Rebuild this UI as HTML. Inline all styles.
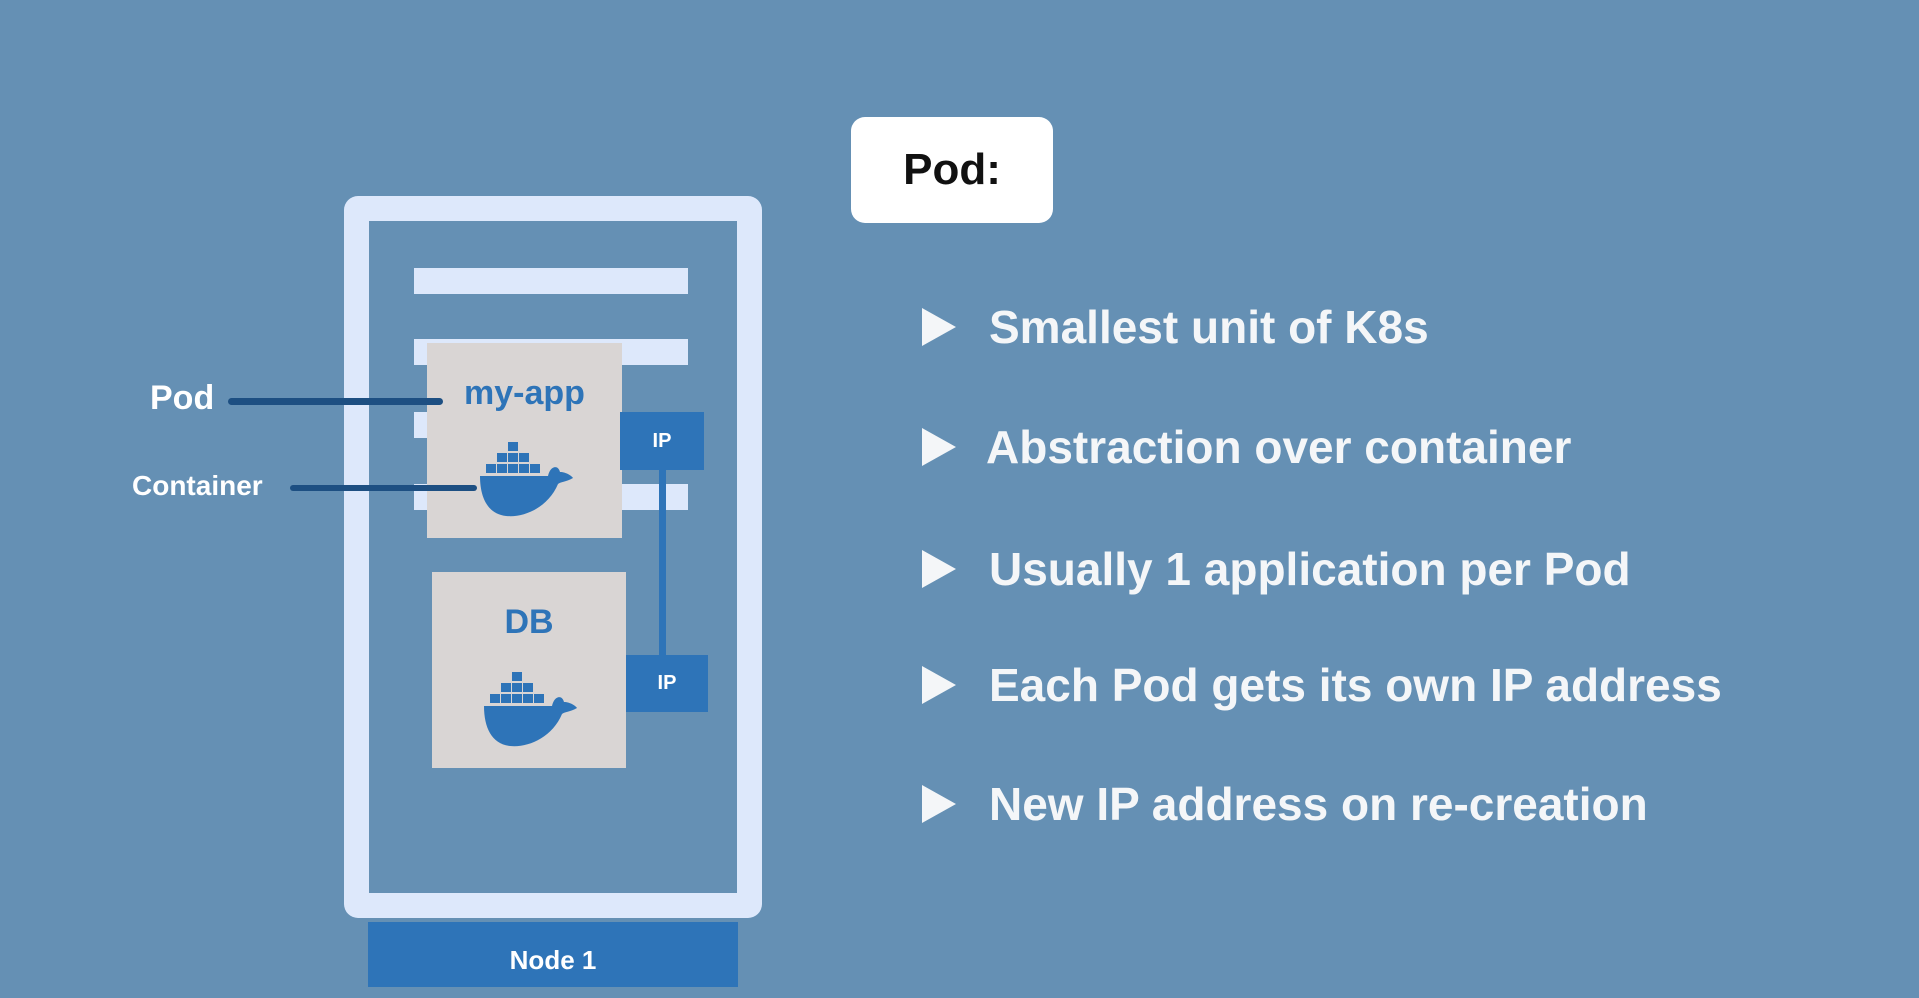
<!DOCTYPE html>
<html><head><meta charset="utf-8"><style>
html,body{margin:0;padding:0}
body{width:1919px;height:987px;background:#6590b4;position:relative;overflow:hidden;font-family:"Liberation Sans",sans-serif}
.a{position:absolute}
.bar{position:absolute;left:414px;width:274px;height:26px;background:#dde8fb}
.box{position:absolute;background:#d9d5d4}
.ip{position:absolute;background:#2e74b8;color:#fff;font-weight:bold;font-size:20px;display:flex;align-items:center;justify-content:center}
.bt{position:absolute;left:922px;width:0;height:0;border-top:19px solid transparent;border-bottom:19px solid transparent;border-left:34px solid #f4f6f8}
.tx{position:absolute;left:989px;color:#f4f6f8;font-size:46px;font-weight:bold;line-height:52px}
.lbl{position:absolute;color:#fff;font-weight:bold}
</style></head><body>
<div class="a" style="left:344px;top:196px;width:368px;height:672px;border:25px solid #dde8fb;border-radius:14px"></div>
<div class="bar" style="top:268px"></div>
<div class="bar" style="top:339px"></div>
<div class="bar" style="top:412px"></div>
<div class="bar" style="top:484px"></div>
<div class="box" style="left:427px;top:343px;width:195px;height:195px"></div>
<div class="box" style="left:432px;top:572px;width:194px;height:196px"></div>
<div class="a" style="left:659px;top:470px;width:7px;height:186px;background:#2e74b8"></div>
<div class="ip" style="left:620px;top:412px;width:84px;height:58px">IP</div>
<div class="ip" style="left:626px;top:655px;width:82px;height:57px">IP</div>
<div class="a" style="left:427px;top:374px;width:195px;text-align:center;color:#2e74b8;font-weight:bold;font-size:34px">my-app</div>
<div class="a" style="left:432px;top:603px;width:194px;text-align:center;color:#2e74b8;font-weight:bold;font-size:34px">DB</div>
<svg class="a" style="left:478px;top:442px" width="100" height="80" viewBox="0 0 100 80">
<g fill="#2e74b8"><rect x="30" y="0" width="10" height="9"/><rect x="19" y="11" width="10" height="9"/><rect x="30" y="11" width="10" height="9"/><rect x="41" y="11" width="10" height="9"/><rect x="8" y="22" width="10" height="9"/><rect x="19" y="22" width="10" height="9"/><rect x="30" y="22" width="10" height="9"/><rect x="41" y="22" width="10" height="9"/><rect x="52" y="22" width="10" height="9"/>
<path d="M2 34 H70 C72 24 80 22 82 30 C88 30 94 34 95 36 C88 40 82 40 80 42 C70 66 45 76 28 74 C10 72 2 56 2 34 Z"/></g></svg>
<svg class="a" style="left:482px;top:672px" width="100" height="80" viewBox="0 0 100 80">
<g fill="#2e74b8"><rect x="30" y="0" width="10" height="9"/><rect x="19" y="11" width="10" height="9"/><rect x="30" y="11" width="10" height="9"/><rect x="41" y="11" width="10" height="9"/><rect x="8" y="22" width="10" height="9"/><rect x="19" y="22" width="10" height="9"/><rect x="30" y="22" width="10" height="9"/><rect x="41" y="22" width="10" height="9"/><rect x="52" y="22" width="10" height="9"/>
<path d="M2 34 H70 C72 24 80 22 82 30 C88 30 94 34 95 36 C88 40 82 40 80 42 C70 66 45 76 28 74 C10 72 2 56 2 34 Z"/></g></svg>
<div class="lbl" style="left:150px;top:379px;font-size:34px">Pod</div>
<div class="a" style="left:228px;top:398px;width:215px;height:7px;background:#1d4f82;border-radius:4px"></div>
<div class="lbl" style="left:132px;top:470px;font-size:28px">Container</div>
<div class="a" style="left:290px;top:485px;width:187px;height:6px;background:#1d4f82;border-radius:4px"></div>
<div class="a" style="left:368px;top:922px;width:370px;height:65px;background:#2e74b8;color:#fff;font-weight:bold;font-size:26px;text-align:center;line-height:76px">Node 1</div>
<div class="a" style="left:851px;top:117px;width:202px;height:106px;background:#fff;border-radius:14px;display:flex;align-items:center;justify-content:center;font-weight:bold;font-size:44px;color:#111">Pod:</div>
<div class="bt" style="top:308px"></div><div class="tx" style="top:301px">Smallest unit of K8s</div>
<div class="bt" style="top:428px"></div><div class="tx" style="top:421px;left:986px">Abstraction over container</div>
<div class="bt" style="top:550px"></div><div class="tx" style="top:543px">Usually 1 application per Pod</div>
<div class="bt" style="top:666px"></div><div class="tx" style="top:659px">Each Pod gets its own IP address</div>
<div class="bt" style="top:785px"></div><div class="tx" style="top:778px">New IP address on re-creation</div>
</body></html>
